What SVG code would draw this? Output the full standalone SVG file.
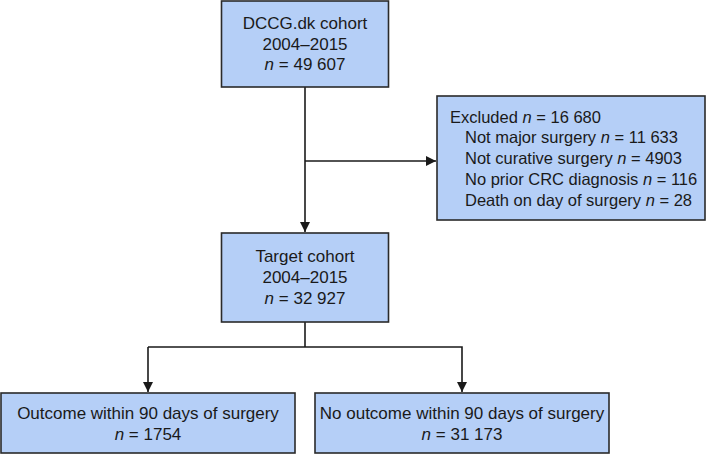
<svg xmlns="http://www.w3.org/2000/svg" width="712" height="456" viewBox="0 0 712 456">
  <style>
    .box { fill: #b5cff7; stroke: #2a2a2a; stroke-width: 1.6; }
    .t { font-family: "Liberation Sans", Arial, sans-serif; font-size: 17px; fill: #1a1a1a; }
    .s { font-size: 16.5px; }
    .c { text-anchor: middle; }
    .conn { stroke: #1a1a1a; stroke-width: 1.6; fill: none; }
  </style>
  <defs>
    <marker id="arr" markerUnits="userSpaceOnUse" markerWidth="11" markerHeight="11" refX="10" refY="5" orient="auto">
      <path d="M0,0 L10,5 L0,10 z" fill="#1a1a1a"/>
    </marker>
  </defs>
  <rect width="712" height="456" fill="#ffffff"/>

  <g id="connectors">
    <line class="conn" x1="305" y1="87" x2="305" y2="232" marker-end="url(#arr)"/>
    <line class="conn" x1="305" y1="161" x2="436" y2="161" marker-end="url(#arr)"/>
    <polyline class="conn" points="305,322 305,347"/>
    <polyline class="conn" points="148,347 462,347 462,392" marker-end="url(#arr)"/>
    <line class="conn" x1="148" y1="347" x2="148" y2="392" marker-end="url(#arr)"/>
  </g>

  <g id="dccg">
    <rect class="box" x="221.5" y="1" width="167" height="86"/>
    <text class="t c" x="305" y="29">DCCG.dk cohort</text>
    <text class="t c" x="305" y="49.5">2004–2015</text>
    <text class="t c" x="305" y="70"><tspan font-style="italic">n</tspan> = 49 607</text>
  </g>

  <g id="excluded">
    <rect class="box" x="437" y="96" width="268" height="124"/>
    <text class="t s" x="450" y="122.5">Excluded <tspan font-style="italic">n</tspan> = 16 680</text>
    <text class="t s" x="465" y="143.3">Not major surgery <tspan font-style="italic">n</tspan> = 11 633</text>
    <text class="t s" x="465" y="164.1">Not curative surgery <tspan font-style="italic">n</tspan> = 4903</text>
    <text class="t s" x="465" y="184.9">No prior CRC diagnosis <tspan font-style="italic">n</tspan> = 116</text>
    <text class="t s" x="465" y="205.7">Death on day of surgery <tspan font-style="italic">n</tspan> = 28</text>
  </g>

  <g id="target">
    <rect class="box" x="221.5" y="233" width="167" height="89"/>
    <text class="t c" x="305" y="262">Target cohort</text>
    <text class="t c" x="305" y="283">2004–2015</text>
    <text class="t c" x="305" y="304"><tspan font-style="italic">n</tspan> = 32 927</text>
  </g>

  <g id="outcome">
    <rect class="box" x="1" y="393" width="294" height="60"/>
    <text class="t c" x="148" y="419">Outcome within 90 days of surgery</text>
    <text class="t c" x="148" y="440"><tspan font-style="italic">n</tspan> = 1754</text>
  </g>

  <g id="no-outcome">
    <rect class="box" x="315" y="393" width="294" height="60"/>
    <text class="t c" x="462" y="419">No outcome within 90 days of surgery</text>
    <text class="t c" x="462" y="440"><tspan font-style="italic">n</tspan> = 31 173</text>
  </g>
</svg>
